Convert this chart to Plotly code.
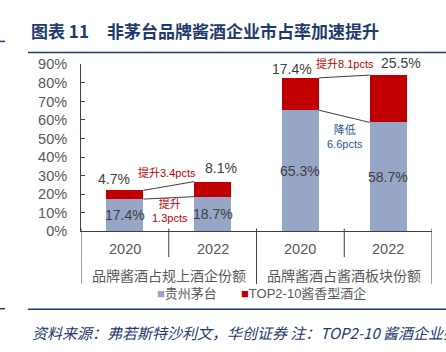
import plotly.graph_objects as go

W, H = 446, 352

years = ["2020", "2022", "2020", "2022"]
groups = ["品牌酱酒占规上酒企份额", "品牌酱酒占酱酒板块份额"]
moutai = [17.4, 18.7, 65.3, 58.7]
top210 = [4.7, 8.1, 17.4, 25.5]
series_names = ["贵州茅台", "TOP2-10酱香型酒企"]
change_notes = ["提升3.4pcts", "提升<br>1.3pcts", "提升8.1pcts", "降低<br>6.6pcts"]
y_ticks = [0, 10, 20, 30, 40, 50, 60, 70, 80, 90]
y_tick_labels = [f"{v}%" for v in y_ticks]

BLUE = "#97A5C6"
RED = "#C00000"
NAVY = "#1F3A6E"
GRAY = "#404040"
NUM_FONT = "Liberation Sans, Arial, Noto Sans CJK SC"
CJK = "Noto Sans CJK SC, Liberation Sans"

xs = list(range(len(years)))
bw = 0.42
totals = [a + b for a, b in zip(moutai, top210)]

fig = go.Figure()
fig.add_trace(go.Bar(x=xs, y=moutai, width=bw, marker_color=BLUE, name=series_names[0],
                     showlegend=False, marker_line_width=0))
fig.add_trace(go.Bar(x=xs, y=top210, width=bw, marker_color=RED, name=series_names[1],
                     showlegend=False, marker_line_width=0))

ann = []
shapes = []

def py(px):
    return (H - px) / H

# in-bar value labels
for i in xs:
    ann.append(dict(x=i, y=moutai[i] / 2, xref="x", yref="y", text=f"{moutai[i]}%",
                    showarrow=False, yanchor="middle",
                    font=dict(family=NUM_FONT, size=14, color=GRAY)))
# labels above bars
xshift = [-11, 8, -8, 13]
yshift = [11, 14, 9, 12]
for i in xs:
    ann.append(dict(x=i, y=totals[i], xref="x", yref="y", text=f"{top210[i]}%",
                    showarrow=False, xshift=xshift[i], yshift=yshift[i], yanchor="middle",
                    font=dict(family=NUM_FONT, size=14, color=GRAY)))

# connector lines
for g in range(2):
    a, b = 2 * g, 2 * g + 1
    for ya, yb in [(totals[a], totals[b]), (moutai[a], moutai[b])]:
        shapes.append(dict(type="line", xref="x", yref="y", x0=a + bw / 2, x1=b - bw / 2,
                           y0=ya, y1=yb, line=dict(color=GRAY, width=1)))

# change notes
note_pos = [(0.5, 173, RED, -2), (0.5, 213, RED, 1), (2.5, 59, RED, 1), (2.5, 135, "#2E5597", 1)]
for (xn, ypx, col, xs_), txt in zip(note_pos, change_notes):
    ann.append(dict(x=xn, y=py(ypx), xref="x", yref="paper", text=txt, showarrow=False,
                    xshift=xs_, font=dict(family=NUM_FONT, size=11, color=col), yanchor="middle"))

# category labels
for i in xs:
    ann.append(dict(x=i, y=py(252), xref="x", yref="paper", text=years[i], showarrow=False,
                    yanchor="middle", font=dict(family=NUM_FONT, size=14.5, color="#595959")))
for g, name in enumerate(groups):
    ann.append(dict(x=2 * g + 0.5, y=py(280), xref="x", yref="paper", text=name,
                    showarrow=False, yanchor="middle",
                    font=dict(family=CJK, size=14, color="#595959")))

# axis separators
for xb in [0.5, 2.5]:
    shapes.append(dict(type="line", xref="x", yref="paper", x0=xb, x1=xb, y0=py(231), y1=py(261),
                       line=dict(color=GRAY, width=1)))
for xb in [-0.5, 1.5, 3.5]:
    shapes.append(dict(type="line", xref="x", yref="paper", x0=xb, x1=xb, y0=py(231), y1=py(289),
                       line=dict(color=GRAY, width=1)))

# legend
ann.append(dict(x=155 / W, y=py(299), xref="paper", yref="paper", xanchor="left", yanchor="middle",
                text=f'<span style="color:{BLUE}">■</span>{series_names[0]}', showarrow=False,
                font=dict(family=NUM_FONT, size=13, color="#595959")))
ann.append(dict(x=239 / W, y=py(299), xref="paper", yref="paper", xanchor="left", yanchor="middle",
                text=f'<span style="color:{RED}">■</span>{series_names[1]}', showarrow=False,
                font=dict(family=NUM_FONT, size=13, color="#595959")))

# title & source
ann.append(dict(x=29 / W, y=py(24), xref="paper", yref="paper", xanchor="left", yanchor="middle",
                text="<b>图表 11</b>", showarrow=False,
                font=dict(family=CJK, size=17, color=NAVY)))
ann.append(dict(x=105 / W, y=py(24), xref="paper", yref="paper", xanchor="left", yanchor="middle",
                text="<b>非茅台品牌酱酒企业市占率加速提升</b>", showarrow=False,
                font=dict(family=CJK, size=17, color=NAVY)))
ann.append(dict(x=30 / W, y=py(340), xref="paper", yref="paper", xanchor="left", yanchor="middle",
                text="<i>资料来源：弗若斯特沙利文，华创证券 注：TOP2-10 酱酒企业排名</i>",
                showarrow=False, font=dict(family=CJK, size=15, color=NAVY)))

for (x0, x1, yy) in [(0, 5, 35), (28, W, 46.5), (0, 5, 315), (28, W, 315.5)]:
    shapes.append(dict(type="line", xref="paper", yref="paper", x0=x0 / W, x1=x1 / W,
                       y0=py(yy), y1=py(yy), line=dict(color=NAVY, width=1.5)))

fig.update_layout(
    width=W, height=H, margin=dict(l=0, r=0, t=0, b=0),
    paper_bgcolor="white", plot_bgcolor="white", barmode="stack",
    annotations=ann, shapes=shapes, showlegend=False,
    xaxis=dict(domain=[81 / W, 432 / W], range=[-0.5, 3.5], showticklabels=False,
               showgrid=False, zeroline=False, showline=True, linecolor=GRAY, linewidth=1,
               ticks="", fixedrange=True),
    yaxis=dict(domain=[py(234), py(59)], range=[0, 90], tickvals=y_ticks, ticktext=y_tick_labels,
               showgrid=False, zeroline=False, showline=True, linecolor=GRAY, linewidth=1,
               ticks="inside", ticklen=4, tickcolor=GRAY, ticklabelstandoff=10,
               tickfont=dict(family=NUM_FONT, size=14.5, color="#595959")),
)

fig.write_html("out.html")
